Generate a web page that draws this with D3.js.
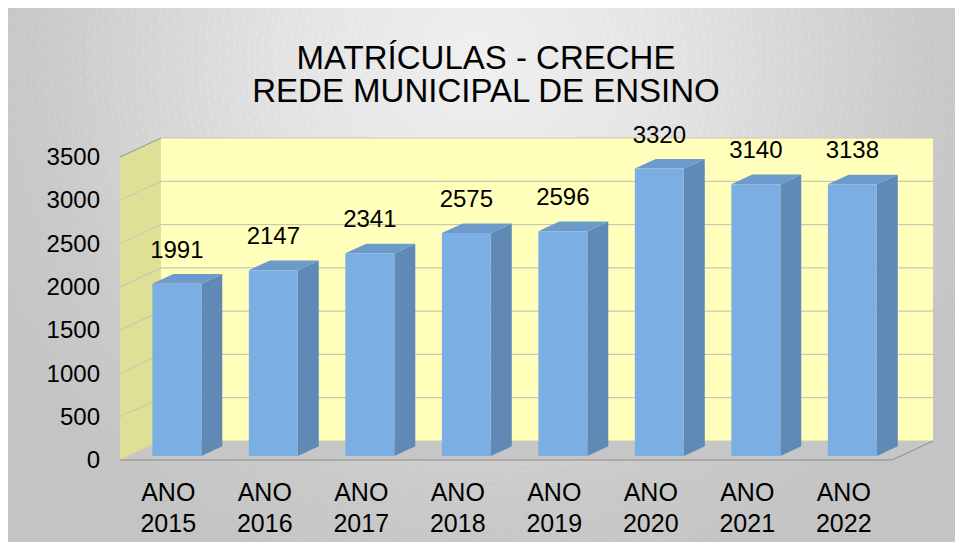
<!DOCTYPE html>
<html lang="pt">
<head>
<meta charset="UTF-8">
<title>Matrículas - Creche</title>
<style>
    html, body { margin: 0; padding: 0; background: #fff; }
    svg { display: block; }
    text { font-family: "Liberation Sans", Arial, sans-serif; fill: #000; }
</style>
</head>
<body>
<svg width="955" height="542"></svg>
<script src="https://d3js.org/d3.v7.min.js"></script>
<script>
// data
var categories = ["ANO 2015", "ANO 2016", "ANO 2017", "ANO 2018", "ANO 2019", "ANO 2020", "ANO 2021", "ANO 2022"];
var values = [1991, 2147, 2341, 2575, 2596, 3320, 3140, 3138];
var yTicks = [0, 500, 1000, 1500, 2000, 2500, 3000, 3500];
var titleLines = ["MATRÍCULAS - CRECHE", "REDE MUNICIPAL DE ENSINO"];

var svg = d3.select("svg");

// 3d look: full depth of the box, bars sit in the middle
var DX = 41, DY = -19;
var barD0 = 0.21, barD1 = 0.72;
function proj(x, y, d) { return [x + DX * d, y + DY * d]; }
function poly(pts) { return pts.map(function(p){ return p.join(","); }).join(" "); }

var x = d3.scaleBand().domain(categories).range([120, 892]).padding(0);
var y = d3.scaleLinear().domain([0, 3500]).range([460, 157]);
var barW = x.bandwidth() * 0.508;

// background with radial gradient
var defs = svg.append("defs");
var grad = defs.append("radialGradient")
    .attr("id", "bg")
    .attr("gradientUnits", "userSpaceOnUse")
    .attr("cx", 480).attr("cy", 60).attr("r", 560);
grad.append("stop").attr("offset", 0).attr("stop-color", "#f0f0f0");
grad.append("stop").attr("offset", 0.35).attr("stop-color", "#e3e3e3");
grad.append("stop").attr("offset", 0.8).attr("stop-color", "#c9c9c9");
grad.append("stop").attr("offset", 1).attr("stop-color", "#c4c4c4");

svg.append("rect")
    .attr("x", 8).attr("y", 8)
    .attr("width", 947).attr("height", 534)
    .attr("fill", "url(#bg)");

// faint arcs of the texture
defs.append("clipPath").attr("id", "frame")
    .append("rect").attr("x", 8).attr("y", 8).attr("width", 947).attr("height", 534);
svg.append("g")
    .attr("clip-path", "url(#frame)")
    .selectAll("circle")
    .data(d3.range(120, 560, 7))
    .enter().append("circle")
    .attr("cx", 480).attr("cy", 60)
    .attr("r", function(d){ return d; })
    .attr("fill", "none")
    .attr("stroke", "#fff")
    .attr("stroke-width", 0.8)
    .attr("stroke-dasharray", "9 5")
    .attr("opacity", function(d){ return 0.45 * (1 - d / 600); });

// floor
var x0 = x.range()[0], x1 = x.range()[1];
svg.append("polygon")
    .attr("points", poly([proj(x0, y(0), 0), proj(x1, y(0), 0), proj(x1, y(0), 1), proj(x0, y(0), 1)]))
    .attr("fill", "#c6c6c6");

// back wall
svg.append("polygon")
    .attr("points", poly([proj(x0, y(0), 1), proj(x1, y(0), 1), proj(x1, y(3500), 1), proj(x0, y(3500), 1)]))
    .attr("fill", "#ffffbb");

// left wall
svg.append("polygon")
    .attr("points", poly([proj(x0, y(0), 0), proj(x0, y(0), 1), proj(x0, y(3500), 1), proj(x0, y(3500), 0)]))
    .attr("fill", "#dfdf95");

// gridlines
var grid = svg.append("g").attr("stroke", "#c9c9b4").attr("stroke-width", 1.2).attr("fill", "none");
yTicks.forEach(function(t) {
    var a = proj(x0, y(t), 0), b = proj(x0, y(t), 1), c = proj(x1, y(t), 1);
    grid.append("polyline").attr("points", poly([a, b, c]));
});
svg.append("line")
    .attr("x1", proj(x0, y(3500), 0)[0]).attr("y1", proj(x0, y(3500), 0)[1])
    .attr("x2", proj(x0, y(3500), 1)[0]).attr("y2", proj(x0, y(3500), 1)[1])
    .attr("stroke", "#9a9a9a");

// floor edges
svg.append("polyline")
    .attr("points", poly([proj(x0, y(0), 0), proj(x1, y(0), 0), proj(x1, y(0), 1)]))
    .attr("fill", "none")
    .attr("stroke", "#8c8c8c")
    .attr("stroke-width", 1);

// bars
var bars = svg.selectAll(".bar")
    .data(values)
    .enter().append("g")
    .attr("class", "bar");

function bx(i) { return x(categories[i]) + (x.bandwidth() - barW) / 2; }

bars.append("polygon") // side
    .attr("points", function(d, i) {
        var l = bx(i) + barW;
        return poly([proj(l, y(0), barD0), proj(l, y(0), barD1), proj(l, y(d), barD1), proj(l, y(d), barD0)]);
    })
    .attr("fill", "#6189b6");

bars.append("polygon") // top
    .attr("points", function(d, i) {
        var l = bx(i), r = l + barW;
        return poly([proj(l, y(d), barD0), proj(r, y(d), barD0), proj(r, y(d), barD1), proj(l, y(d), barD1)]);
    })
    .attr("fill", "#6b9acb");

bars.append("polygon") // front
    .attr("points", function(d, i) {
        var l = bx(i), r = l + barW;
        return poly([proj(l, y(0), barD0), proj(r, y(0), barD0), proj(r, y(d), barD0), proj(l, y(d), barD0)]);
    })
    .attr("fill", "#7bafe3");

bars.append("text")
    .attr("x", function(d, i) { return proj(bx(i) + barW / 2, y(d), barD0)[0]; })
    .attr("y", function(d, i) { return proj(bx(i), y(d), barD0)[1] - 26; })
    .attr("text-anchor", "middle")
    .style("font-size", "24px")
    .text(function(d) { return d; });

// y axis
var yAxis = svg.append("g")
    .attr("transform", "translate(108,0)")
    .call(d3.axisLeft(y).tickValues(yTicks).tickSize(0).tickPadding(8).tickFormat(d3.format("d")));
yAxis.select(".domain").remove();
yAxis.selectAll("text")
    .attr("fill", "#000")
    .style("font-size", "24px")
    .style("font-family", "'Liberation Sans', Arial, sans-serif");

// x axis with two line labels
var xAxis = svg.append("g")
    .attr("transform", "translate(0,470)")
    .call(d3.axisBottom(x).tickSize(0).tickPadding(0));
xAxis.select(".domain").remove();
xAxis.selectAll("text")
    .attr("fill", "#000")
    .attr("y", 0).attr("dy", null)
    .style("font-size", "25px")
    .style("font-family", "'Liberation Sans', Arial, sans-serif")
    .each(function(d) {
        var parts = d.split(" "), t = d3.select(this);
        t.text(null);
        t.append("tspan").attr("x", 0).attr("y", 31).text(parts[0]);
        t.append("tspan").attr("x", 0).attr("y", 62).text(parts[1]);
    });

// title, one text per line
svg.selectAll(".title")
    .data(titleLines)
    .enter().append("text")
    .attr("class", "title")
    .attr("x", 486)
    .attr("y", function(d, i) { return 69 + i * 33; })
    .attr("text-anchor", "middle")
    .style("font-size", "33px")
    .text(function(d) { return d; });
</script>
</body>
</html>
